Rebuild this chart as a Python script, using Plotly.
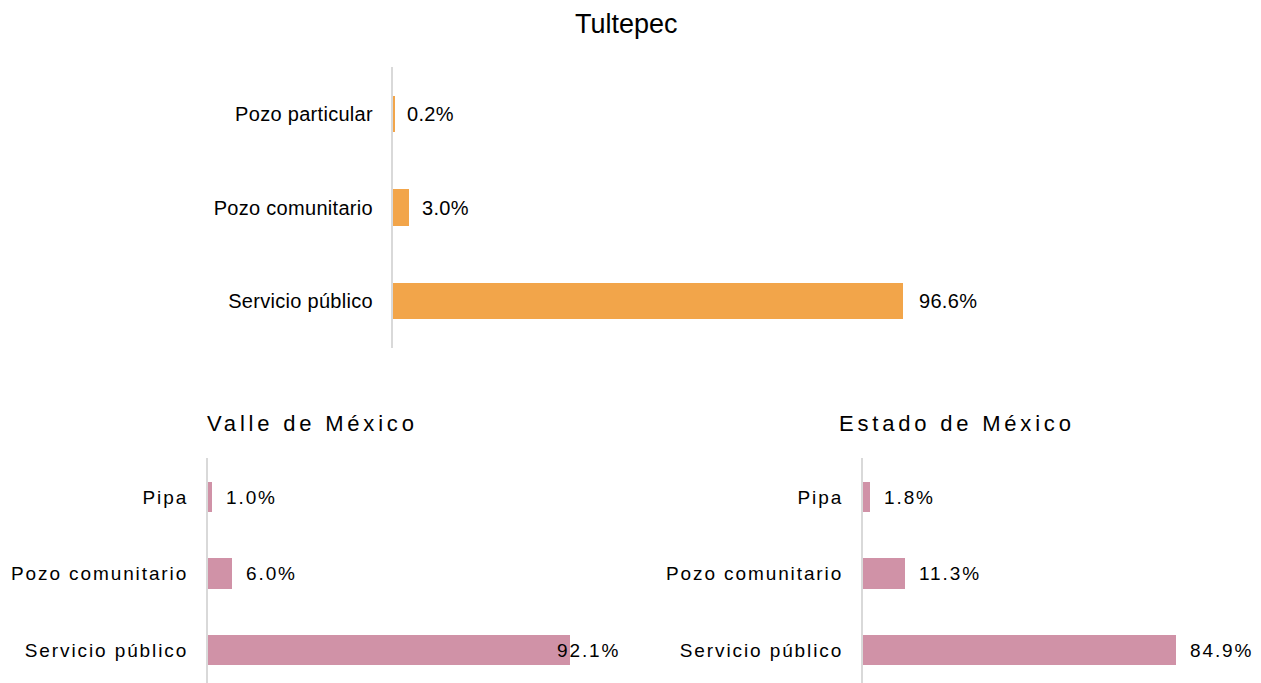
import plotly.graph_objects as go

# Fuente de abastecimiento de agua (% de viviendas)
tultepec_cats = ["Pozo particular", "Pozo comunitario", "Servicio público"]
tultepec_vals = [0.2, 3.0, 96.6]

valle_cats = ["Pipa", "Pozo comunitario", "Servicio público"]
valle_vals = [1.0, 6.0, 92.1]

edomex_cats = ["Pipa", "Pozo comunitario", "Servicio público"]
edomex_vals = [1.8, 11.3, 84.9]

W, H = 1261, 683
FONT = "Liberation Sans, Arial, sans-serif"
ORANGE = "#F2A54A"
PINK = "#D092A7"
AXIS_GRAY = "#D9D9D9"


def px_x(p):
    return p / W


def px_y(p):
    return 1 - p / H


def spaced(text, sp):
    if sp <= 0:
        return text
    return f'<span style="letter-spacing:{sp}px">{text}</span>'


fig = go.Figure()

panels = [
    dict(cats=tultepec_cats, vals=tultepec_vals, color=ORANGE, ax="",
         xd=(393, 921), yd=(67, 348), yr=(2.5, -0.5), bw=0.39,
         fs=20, sp=0.3, shifts=[11, 11, 14],
         title="Tultepec", tpos=(626, 24), tfs=27, tsp=0),
    dict(cats=valle_cats, vals=valle_vals, color=PINK, ax="2",
         xd=(208, 601), yd=(458, 683), yr=(2.43, -0.51), bw=0.40,
         fs=19, sp=1.9, shifts=[12, 12, -15],
         title="Valle de México", tpos=(312, 423), tfs=22, tsp=3.8),
    dict(cats=edomex_cats, vals=edomex_vals, color=PINK, ax="3",
         xd=(863, 1232), yd=(458, 683), yr=(2.43, -0.51), bw=0.40,
         fs=19, sp=1.9, shifts=[12, 12, 12],
         title="Estado de México", tpos=(957, 423), tfs=22, tsp=3.8),
]

annotations = []
for p in panels:
    xa = "x" + p["ax"]
    ya = "y" + p["ax"]
    fig.add_trace(go.Bar(
        x=p["vals"], y=p["cats"], orientation="h",
        marker=dict(color=p["color"], line=dict(width=0)),
        width=p["bw"], xaxis=xa, yaxis=ya, hoverinfo="x+y",
        showlegend=False,
    ))
    for c, v, s in zip(p["cats"], p["vals"], p["shifts"]):
        annotations.append(dict(
            x=v, y=c, xref=xa, yref=ya, xanchor="left", yanchor="middle",
            xshift=s, showarrow=False,
            text=spaced(f"{v:.1f}%", p["sp"]),
            font=dict(family=FONT, size=p["fs"], color="#000000"),
        ))
    annotations.append(dict(
        x=px_x(p["tpos"][0]), y=px_y(p["tpos"][1]), xref="paper", yref="paper",
        xanchor="center", yanchor="middle", showarrow=False,
        text=spaced(p["title"], p["tsp"]),
        font=dict(family=FONT, size=p["tfs"], color="#000000"),
    ))
    xkey = "xaxis" + p["ax"]
    ykey = "yaxis" + p["ax"]
    fig.update_layout(**{
        xkey: dict(domain=[px_x(p["xd"][0]), px_x(p["xd"][1])], range=[0, 100],
                   visible=False, anchor=ya, fixedrange=True),
        ykey: dict(domain=[px_y(p["yd"][1]), px_y(p["yd"][0])],
                   range=list(p["yr"]), anchor=xa,
                   type="category",
                   tickmode="array", tickvals=p["cats"],
                   ticktext=[spaced(c, p["sp"]) for c in p["cats"]],
                   showgrid=False, zeroline=False,
                   showline=True, linecolor=AXIS_GRAY, linewidth=2,
                   ticks="", ticklabelstandoff=14,
                   tickfont=dict(family=FONT, size=p["fs"], color="#000000"),
                   fixedrange=True),
    })

fig.update_layout(
    width=W, height=H,
    margin=dict(l=0, r=0, t=0, b=0),
    paper_bgcolor="white", plot_bgcolor="white",
    bargap=0, annotations=annotations,
)

fig.write_html("out.html")
